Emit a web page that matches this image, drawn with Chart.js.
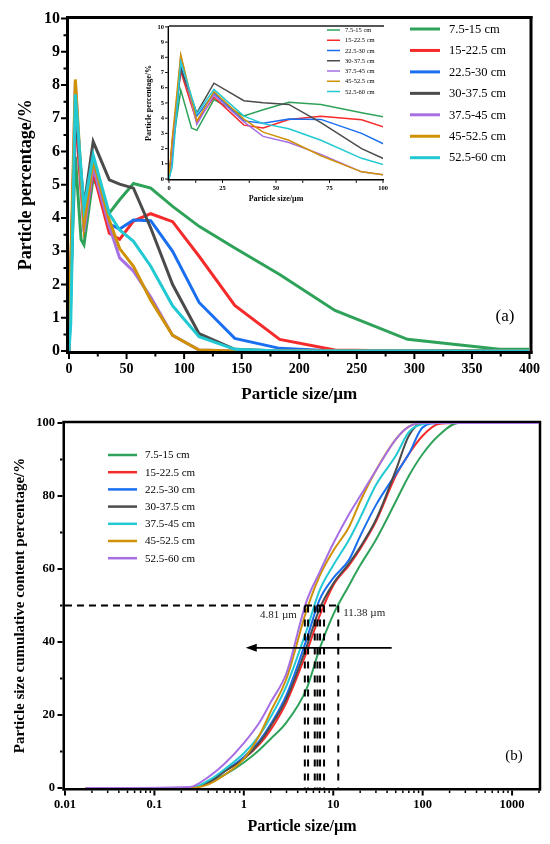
<!DOCTYPE html>
<html><head><meta charset="utf-8">
<script src="https://cdn.jsdelivr.net/npm/chart.js@4.4.1/dist/chart.umd.min.js"></script>
<style>
html,body{margin:0;padding:0;background:#fff;width:550px;height:844px;overflow:hidden;}
.box{position:absolute;}
</style></head><body>
<div class="box" style="left:0;top:0;width:550px;height:405px"><canvas id="ca"></canvas></div>
<div class="box" style="left:135px;top:18px;width:260px;height:190px"><canvas id="ci"></canvas></div>
<div class="box" style="left:0;top:405px;width:550px;height:439px"><canvas id="cb"></canvas></div>
<script>
// ---------- data: chart (a) particle percentage ----------
const labelsA = ['7.5-15 cm','15-22.5 cm','22.5-30 cm','30-37.5 cm','37.5-45 cm','45-52.5 cm','52.5-60 cm'];
const colorsA = ['#2fa25a','#f52a2a','#1a6ef0','#4b4b4b','#a66fe3','#cf9206','#22c9d2'];
const sizesA    = [0, 1.5, 5.5, 10.5, 13, 21, 35, 44, 56, 71, 90, 113, 144, 183, 231, 294, 374, 400];
const a_7_5_15  = [0, 2.0, 5.85, 3.35, 3.2, 5.22, 4.15, 4.55, 5.04, 4.9, 4.35, 3.75, 3.1, 2.3, 1.22, 0.35, 0.05, 0.05];
const a_15_22_5 = [0, 2.5, 7.07, 4.85, 3.74, 5.38, 3.54, 3.36, 3.91, 4.13, 3.89, 2.85, 1.37, 0.35, 0.03, 0, 0, 0];
const a_22_5_30 = [0, 1.5, 7.38, 5.21, 4.13, 5.63, 3.82, 3.67, 3.94, 3.92, 3.0, 1.46, 0.38, 0.08, 0, 0, 0, 0];
const a_30_37_5 = [0, 2.2, 7.25, 5.31, 4.34, 6.3, 5.15, 5.02, 4.9, 3.7, 2.0, 0.52, 0.05, 0, 0, 0, 0, 0];
const a_37_5_45 = [0, 1.8, 8.1, 5.09, 3.59, 5.53, 3.75, 2.8, 2.4, 1.62, 0.47, 0.03, 0, 0, 0, 0, 0, 0];
const a_45_52_5 = [0, 2.6, 8.17, 5.26, 3.81, 5.74, 3.94, 3.08, 2.55, 1.53, 0.47, 0.03, 0, 0, 0, 0, 0, 0];
const a_52_5_60 = [0, 0.8, 7.72, 5.44, 4.3, 5.89, 4.13, 3.64, 3.3, 2.55, 1.36, 0.43, 0.05, 0, 0, 0, 0, 0];
const seriesA = [a_7_5_15, a_15_22_5, a_22_5_30, a_30_37_5, a_37_5_45, a_45_52_5, a_52_5_60];

// ---------- data: chart (b) cumulative content ----------
const labelsB = ['7.5-15 cm','15-22.5 cm','22.5-30 cm','30-37.5 cm','37.5-45 cm','45-52.5 cm','52.5-60 cm'];
const colorsB = ['#2fa25a','#f52a2a','#1a6ef0','#4b4b4b','#22c9d2','#cf9206','#a66fe3'];
const sizesB    = [0.017, 0.25, 0.4, 0.6, 1, 1.5, 2, 3, 5, 7, 10, 15, 20, 30, 50, 70, 100, 150, 250, 2000];
const b_7_5_15  = [0, 0, 1.5, 3.5, 7, 10.5, 13.5, 18, 27, 38, 47.5, 55.5, 61, 68, 78.5, 85.5, 91.5, 96.5, 100, 100];
const b_15_22_5 = [0, 0, 1.5, 4.5, 8, 12, 16, 23.5, 37, 47, 55.5, 61, 65.5, 73, 85.5, 91.5, 96.5, 99.7, 100, 100];
const b_22_5_30 = [0, 0, 1.5, 4.5, 8.5, 13, 17.5, 25.5, 40.5, 51.5, 57.5, 62.5, 69, 77.5, 86, 91.5, 98.8, 100, 100, 100];
const b_30_37_5 = [0, 0, 1.5, 4.5, 8, 12.5, 17, 24.5, 38.5, 49, 56, 61.5, 66, 73.5, 87, 96.5, 100, 100, 100, 100];
const b_37_5_45 = [0, 0, 2, 5, 9.5, 14.5, 19.5, 28, 43, 54, 61, 68, 74, 83, 91, 97.5, 99.7, 100, 100, 100];
const b_45_52_5 = [0, 0, 1, 3.5, 8, 14.5, 21, 30, 48.5, 58, 65, 71.5, 78.5, 87, 95.5, 99, 100, 100, 100, 100];
const b_52_5_60 = [0, 0.3, 3, 6.5, 12.3, 18, 23.5, 31.5, 51, 59, 67, 75, 80, 87, 95.5, 99, 100, 100, 100, 100];
const seriesB = [b_7_5_15, b_15_22_5, b_22_5_30, b_30_37_5, b_37_5_45, b_45_52_5, b_52_5_60];
const mediansB = [4.81, 5.23, 6.21, 6.66, 7.12, 7.89, 11.38];
const medianLevel = 50;
const arrowY = 38.4, arrowFrom = 45, arrowTo = 1.05;
const xTickValsB = [0.01, 0.1, 1, 10, 100, 1000];
const xTickLabelsB = ['0.01', '0.1', '1', '10', '100', '1000'];

// ---------- helpers ----------
const SERIF = '"Liberation Serif","Times New Roman",serif';
const fnt = (size, weight) => (weight || 'normal') + ' ' + size + 'px ' + SERIF;
function seg(ctx, x1, y1, x2, y2, lw, color) {
  ctx.save(); ctx.strokeStyle = color; ctx.lineWidth = lw; ctx.lineCap = 'butt';
  ctx.beginPath(); ctx.moveTo(x1, y1); ctx.lineTo(x2, y2); ctx.stroke(); ctx.restore();
}
function ticks(chart, axis, vals, off, len, lw) {
  const ctx = chart.ctx, s = chart.scales[axis], a = chart.chartArea;
  ctx.save(); ctx.strokeStyle = '#000'; ctx.lineWidth = lw; ctx.beginPath();
  vals.forEach(v => {
    const p = s.getPixelForValue(v);
    if (axis === 'x') { ctx.moveTo(p, a.bottom + off); ctx.lineTo(p, a.bottom + off + len); }
    else { ctx.moveTo(a.left - off, p); ctx.lineTo(a.left - off - len, p); }
  });
  ctx.stroke(); ctx.restore();
}
function legend(ctx, labels, colors, x1, x2, tx, y0, dy, lw, size) {
  ctx.save(); ctx.font = fnt(size); ctx.fillStyle = '#000'; ctx.textBaseline = 'middle'; ctx.textAlign = 'left';
  labels.forEach((l, i) => {
    const y = y0 + dy * i;
    seg(ctx, x1, y, x2, y, lw, colors[i]);
    ctx.fillText(l, tx, y + 0.5);
  });
  ctx.restore();
}
const range = (a, b, st) => { const r = []; for (let v = a; v <= b + 1e-9; v += st) r.push(+v.toFixed(4)); return r; };

function lineDatasets(labels, colors, xs, series, bw) {
  return labels.map((l, i) => ({
    label: l, data: xs.map((x, j) => ({x: x, y: series[i][j]})),
    borderColor: colors[i], backgroundColor: colors[i], borderWidth: bw,
    pointRadius: 0, fill: false, order: labels.length - i
  }));
}
const tickFont = (s) => ({family: SERIF, size: s, weight: 'bold'});

// ---------- chart (a) ----------
const decoA = {
  id: 'decoA',
  beforeDatasetsDraw(chart) {
    const ctx = chart.ctx, a = chart.chartArea;
    seg(ctx, a.left - 3, a.bottom + 1.5, a.right + 3, a.bottom + 1.5, 3, '#000');
    seg(ctx, a.left - 1.5, a.top - 2.5, a.left - 1.5, a.bottom + 3, 3, '#000');
    seg(ctx, a.left - 3, a.top - 1, a.right + 3, a.top - 1, 3, '#000');
    seg(ctx, a.right + 1.5, a.top - 2.5, a.right + 1.5, a.bottom + 3, 3, '#000');
    ticks(chart, 'x', range(0, 400, 50), 3, 5, 2);
    ticks(chart, 'x', range(25, 375, 50), 3, 2.5, 2);
    ticks(chart, 'y', range(0, 10, 1), 3, 5, 2);
    ticks(chart, 'y', range(0.5, 9.5, 1), 3, 2.5, 2);
  },
  afterDatasetsDraw(chart) {
    const ctx = chart.ctx;
    legend(ctx, labelsA, colorsA, 410, 440, 449, 29, 21.45, 3, 12.5);
    ctx.save(); ctx.font = fnt(17); ctx.fillStyle = '#000'; ctx.textAlign = 'center'; ctx.textBaseline = 'middle';
    ctx.fillText('(a)', 505, 317); ctx.restore();
  }
};
new Chart(document.getElementById('ca'), {
  type: 'line',
  data: {datasets: lineDatasets(labelsA, colorsA, sizesA, seriesA, 3)},
  options: {
    responsive: true, maintainAspectRatio: false, animation: false,
    layout: {padding: {left: 0, right: 20, top: 14, bottom: 0}},
    elements: {line: {tension: 0}},
    plugins: {legend: {display: false}, tooltip: {enabled: false}},
    scales: {
      x: {type: 'linear', min: 0, max: 400,
        grid: {display: false, drawTicks: false}, border: {display: false},
        ticks: {stepSize: 50, autoSkip: false, maxRotation: 0, color: '#000', font: tickFont(14), padding: 10},
        title: {display: true, text: 'Particle size/µm', color: '#000', font: {family: SERIF, size: 17, weight: 'bold'}, padding: {top: 0, bottom: 0}},
        afterFit: s => { s.height = 54; }},
      y: {type: 'linear', min: 0, max: 10,
        grid: {display: false, drawTicks: false}, border: {display: false},
        ticks: {stepSize: 1, autoSkip: false, color: '#000', font: tickFont(16), padding: 9},
        title: {display: true, text: 'Particle percentage/%', color: '#000', font: {family: SERIF, size: 18, weight: 'bold'}, padding: {top: 16, bottom: 0}},
        afterFit: s => { s.width = 69; }}
    }
  },
  plugins: [decoA]
});

// ---------- inset ----------
const decoI = {
  id: 'decoI',
  beforeDatasetsDraw(chart) {
    const ctx = chart.ctx, a = chart.chartArea;
    seg(ctx, a.left, a.top - 1, a.right + 1, a.top - 1, 2, '#555');
    seg(ctx, a.left - 0.7, a.top - 1, a.left - 0.7, a.bottom + 1.5, 1.4, '#000');
    seg(ctx, a.left - 1.4, a.bottom + 0.7, a.right + 1, a.bottom + 0.7, 1.4, '#000');
    ticks(chart, 'x', range(0, 100, 12.5), 1.4, 2.5, 1);
    ticks(chart, 'y', range(0, 10, 1), 1.4, 2.5, 1);
  },
  afterDatasetsDraw(chart) {
    legend(chart.ctx, labelsA, colorsA, 192, 205, 210, 12, 10.25, 1.5, 6.5);
  }
};
new Chart(document.getElementById('ci'), {
  type: 'line',
  data: {datasets: lineDatasets(labelsA, colorsA, sizesA, seriesA, 1.5)},
  options: {
    responsive: true, maintainAspectRatio: false, animation: false,
    layout: {padding: {left: 0, right: 12, top: 6, bottom: 0}},
    elements: {line: {tension: 0}},
    plugins: {legend: {display: false}, tooltip: {enabled: false}},
    scales: {
      x: {type: 'linear', min: 0, max: 100,
        grid: {display: false, drawTicks: false}, border: {display: false},
        ticks: {stepSize: 25, autoSkip: false, maxRotation: 0, color: '#000', font: tickFont(6.5), padding: 5},
        title: {display: true, text: 'Particle size/µm', color: '#000', font: {family: SERIF, size: 8, weight: 'bold'}, padding: {top: 0, bottom: 4.2}},
        afterFit: s => { s.height = 29; }},
      y: {type: 'linear', min: 0, max: 10,
        grid: {display: false, drawTicks: false}, border: {display: false},
        ticks: {stepSize: 1, autoSkip: false, color: '#000', font: tickFont(6.5), padding: 5},
        title: {display: true, text: 'Particle percentage/%', color: '#000', font: {family: SERIF, size: 8, weight: 'bold'}, padding: {top: 9.2, bottom: 0}},
        afterFit: s => { s.width = 34; }}
    }
  },
  plugins: [decoI]
});

// ---------- chart (b) ----------
const minorB = [];
[0.01, 0.1, 1, 10, 100, 1000].forEach(d => { for (let k = 2; k <= 9; k++) { const v = d * k; if (v <= 2000) minorB.push(v); } });
const decoB = {
  id: 'decoB',
  beforeDatasetsDraw(chart) {
    const ctx = chart.ctx, a = chart.chartArea;
    seg(ctx, a.left - 2.5, a.bottom + 1.25, a.right + 2, a.bottom + 1.25, 2.5, '#000');
    seg(ctx, a.left - 1.25, a.top - 2, a.left - 1.25, a.bottom + 2.5, 2.5, '#000');
    seg(ctx, a.left - 2.5, a.top - 1, a.right + 2, a.top - 1, 2.5, '#000');
    seg(ctx, a.right + 1, a.top - 2, a.right + 1, a.bottom + 2.5, 2.5, '#000');
    ticks(chart, 'x', xTickValsB, 2.5, 5, 2);
    ticks(chart, 'x', minorB, 2.5, 2.5, 1.5);
    ticks(chart, 'y', range(0, 100, 20), 2.5, 5, 2);
    ticks(chart, 'y', range(10, 90, 20), 2.5, 2.5, 2);
  },
  afterDatasetsDraw(chart) {
    const ctx = chart.ctx, xs = chart.scales.x, ys = chart.scales.y;
    legend(ctx, labelsB, colorsB, 108, 137, 145, 50, 17.2, 2.5, 11);
    // median labels
    const yl = ys.getPixelForValue(medianLevel) + 9;
    ctx.save(); ctx.font = fnt(11); ctx.fillStyle = '#222'; ctx.textBaseline = 'middle';
    ctx.textAlign = 'right'; ctx.fillText(mediansB[0].toFixed(2) + ' µm', xs.getPixelForValue(mediansB[0]) - 8, yl + 1);
    ctx.textAlign = 'left'; ctx.fillText(mediansB[6].toFixed(2) + ' µm', xs.getPixelForValue(mediansB[6]) + 5, yl - 1);
    ctx.restore();
    // arrow
    const ay = ys.getPixelForValue(arrowY), x1 = xs.getPixelForValue(arrowFrom), x2 = xs.getPixelForValue(arrowTo);
    seg(ctx, x1, ay, x2 + 8, ay, 1.6, '#000');
    ctx.save(); ctx.fillStyle = '#000'; ctx.beginPath();
    ctx.moveTo(x2, ay); ctx.lineTo(x2 + 11, ay - 4); ctx.lineTo(x2 + 11, ay + 4); ctx.closePath(); ctx.fill(); ctx.restore();
    ctx.save(); ctx.font = fnt(15); ctx.fillStyle = '#000'; ctx.textAlign = 'center'; ctx.textBaseline = 'middle';
    ctx.fillText('(b)', 514, 351); ctx.restore();
  }
};
const dsB = lineDatasets(labelsB, colorsB, sizesB, seriesB, 2).map(d => Object.assign(d, {cubicInterpolationMode: 'monotone'}));
dsB.push({label: 'h50', data: [{x: 0.01, y: medianLevel}, {x: mediansB[6], y: medianLevel}],
  borderColor: '#000', borderWidth: 2, borderDash: [7, 5], pointRadius: 0, order: -1, fill: false});
mediansB.forEach((m, i) => dsB.push({label: 'v' + i, data: [{x: m, y: medianLevel}, {x: m, y: 0}],
  borderColor: '#000', borderWidth: 2, borderDash: [7, 7], pointRadius: 0, order: -1, fill: false}));
new Chart(document.getElementById('cb'), {
  type: 'line',
  data: {datasets: dsB},
  options: {
    responsive: true, maintainAspectRatio: false, animation: false,
    layout: {padding: {left: 0, right: 11, top: 18, bottom: 0}},
    plugins: {legend: {display: false}, tooltip: {enabled: false}},
    scales: {
      x: {type: 'logarithmic', min: 0.01, max: 2000,
        grid: {display: false, drawTicks: false}, border: {display: false},
        afterBuildTicks: s => { s.ticks = xTickValsB.map(v => ({value: v, major: true})); },
        ticks: {autoSkip: false, maxRotation: 0, color: '#000', font: tickFont(12.5), padding: 9,
          callback: (v, i) => xTickLabelsB[i]},
        title: {display: true, text: 'Particle size/µm', color: '#000', font: {family: SERIF, size: 16, weight: 'bold'}, padding: {top: 0, bottom: 7.4}},
        afterFit: s => { s.height = 56; }},
      y: {type: 'linear', min: 0, max: 100,
        grid: {display: false, drawTicks: false}, border: {display: false},
        ticks: {stepSize: 20, autoSkip: false, color: '#000', font: tickFont(12.5), padding: 10},
        title: {display: true, text: 'Particle size cumulative content percentage/%', color: '#000', font: {family: SERIF, size: 15, weight: 'bold'}, padding: {top: 11.5, bottom: 0}},
        afterFit: s => { s.width = 65; }}
    }
  },
  plugins: [decoB]
});
</script>
</body></html>
